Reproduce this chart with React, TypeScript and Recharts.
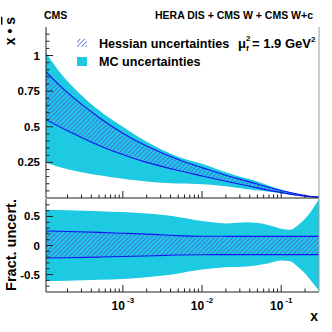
import { ComposedChart, Area, XAxis, YAxis, Legend } from 'recharts'

// top panel: x * sbar at mu_f^2 = 1.9 GeV^2
const xTop = [1.07e-4, 2e-4, 5e-4, 1e-3, 2e-3, 5e-3, 1e-2, 2e-2, 3.5e-2, 5e-2, 0.1, 0.2, 0.3]
const mcUpper = [1.02, 0.82, 0.615, 0.5, 0.395, 0.29, 0.24, 0.18, 0.14, 0.115, 0.058, 0.02, 0.008]
const mcLower = [0.247, 0.202, 0.159, 0.135, 0.116, 0.101, 0.097, 0.082, 0.064, 0.054, 0.033, 0.008, 0.002]
const hessUpper = [0.887, 0.74, 0.565, 0.455, 0.365, 0.27, 0.213, 0.16, 0.122, 0.098, 0.052, 0.018, 0.007]
const hessLower = [0.55, 0.472, 0.369, 0.305, 0.25, 0.193, 0.155, 0.117, 0.089, 0.071, 0.038, 0.013, 0.005]

// bottom panel: fractional uncertainties
const xFrac = [1.07e-4, 2e-4, 5e-4, 1e-3, 2e-3, 3.5e-3, 5e-3, 1e-2, 2e-2, 3.7e-2, 5e-2, 7e-2, 0.1, 0.13, 0.16, 0.2, 0.23, 0.27, 0.3]
const fracMcUpper = [0.61, 0.605, 0.59, 0.575, 0.55, 0.52, 0.49, 0.42, 0.38, 0.4, 0.385, 0.35, 0.29, 0.27, 0.34, 0.46, 0.56, 0.7, 0.8]
const fracMcLower = [-0.61, -0.605, -0.59, -0.575, -0.545, -0.51, -0.48, -0.415, -0.375, -0.36, -0.34, -0.305, -0.26, -0.27, -0.36, -0.48, -0.58, -0.7, -0.78]
const fracHessUpper = [0.25, 0.24, 0.225, 0.21, 0.195, 0.18, 0.17, 0.16, 0.158, 0.157, 0.157, 0.157, 0.157, 0.157, 0.157, 0.157, 0.157, 0.157, 0.157]
const fracHessLower = [-0.215, -0.21, -0.2, -0.19, -0.18, -0.17, -0.163, -0.158, -0.157, -0.157, -0.157, -0.157, -0.157, -0.157, -0.157, -0.157, -0.157, -0.157, -0.157]

// axes
const X_MIN = 1.07e-4
const X_MAX = 0.3
const decades = [1e-4, 1e-3, 1e-2, 1e-1]
const minorSteps = [2, 3, 4, 5, 6, 7, 8, 9]
const xLabels = [1e-3, 1e-2, 1e-1]
const yTopLabels = [0.25, 0.5, 0.75, 1]
const yFracLabels = [-0.5, 0, 0.5]

const xTicks = decades
  .flatMap((d) => [d, ...minorSteps.map((m) => m * d)])
  .filter((v) => v >= X_MIN && v < X_MAX * 0.999)
const yTopTicks = Array.from({ length: 23 }, (_, i) => (i + 1) * 0.05)
const yFracTicks = Array.from({ length: 15 }, (_, i) => (i - 7) / 10)

const topData = xTop.map((x, i) => ({
  x,
  mc: [mcLower[i], mcUpper[i]],
  hess: [hessLower[i], hessUpper[i]],
}))
const fracData = xFrac.map((x, i) => ({
  x,
  mc: [fracMcLower[i], fracMcUpper[i]],
  hess: [fracHessLower[i], fracHessUpper[i]],
}))

const FONT = '"Liberation Sans", Arial, Helvetica, sans-serif'
const CYAN = '#1ec9e2'
const BLUE = '#1414f0'
const AXIS = '#222'

const isIn = (list: number[], v: number) => list.some((l) => Math.abs(l - v) <= Math.abs(l) * 1e-6 + 1e-9)

const renderXTick = (withLabel: boolean) => (props: any) => {
  const { x, y, payload } = props
  const major = isIn(xLabels, payload.value)
  const exp = Math.round(Math.log10(payload.value))
  return (
    <g>
      <line x1={x} x2={x} y1={y} y2={y - (major ? 7 : 3.5)} stroke={AXIS} />
      {withLabel && major && (
        <text x={x} y={y + 18} textAnchor="middle" fontFamily={FONT} fontWeight="bold" fontSize={12} fill="#000">
          10
          <tspan dx={2} dy={-7} fontSize={8}>
            {exp}
          </tspan>
        </text>
      )}
    </g>
  )
}

const renderYTick = (labels: number[]) => (props: any) => {
  const { x, y, payload } = props
  const major = isIn(labels, payload.value)
  const axisX = x + 6
  return (
    <g>
      <line x1={axisX} x2={axisX + (major ? 7 : 3.5)} y1={y} y2={y} stroke={AXIS} />
      {major && (
        <text x={x} y={y + 4} textAnchor="end" fontFamily={FONT} fontWeight="bold" fontSize={11.5} fill="#000">
          {String(payload.value)}
        </text>
      )}
    </g>
  )
}

const LegendBox = () => (
  <svg width={170} height={32} style={{ display: 'block' }}>
    <rect x={0} y={2} width={10} height={8} fill="url(#hessHatch)" />
    <text x={22} y={11} fontFamily={FONT} fontWeight="bold" fontSize={12.6} fill="#000">
      Hessian uncertainties
    </text>
    <rect x={0} y={20} width={10} height={9} fill={CYAN} />
    <text x={22} y={29} fontFamily={FONT} fontWeight="bold" fontSize={12.6} fill="#000">
      MC uncertainties
    </text>
  </svg>
)

export default function App() {
  return (
    <div style={{ position: 'absolute', left: 0, top: 0, width: 332, height: 332, background: '#fff' }}>
      <div style={{ position: 'absolute', left: 0, top: 0 }}>
        <ComposedChart width={332} height={199} data={topData} margin={{ top: 27, right: 0, bottom: 0, left: 0 }}>
          <defs>
            <pattern id="hessHatch" width="3.2" height="3.2" patternUnits="userSpaceOnUse" patternTransform="rotate(-45)">
              <line x1="0" y1="0.5" x2="3.2" y2="0.5" stroke="#4d5fe6" strokeWidth="0.8" />
            </pattern>
          </defs>
          <Area dataKey="mc" type="natural" fill={CYAN} fillOpacity={1} stroke="none" isAnimationActive={false} />
          <Area
            dataKey="hess"
            type="natural"
            fill="url(#hessHatch)"
            fillOpacity={1}
            stroke={BLUE}
            strokeWidth={1.1}
            isAnimationActive={false}
          />
          <XAxis
            dataKey="x"
            type="number"
            scale="log"
            domain={[X_MIN, X_MAX]}
            allowDataOverflow
            ticks={xTicks}
            interval={0}
            height={1}
            tickSize={0}
            tickMargin={0}
            tick={renderXTick(false)}
            tickLine={false}
            axisLine={{ stroke: AXIS }}
          />
          <YAxis
            yAxisId={0}
            type="number"
            domain={[0, 1.2]}
            ticks={yTopTicks}
            interval={0}
            width={46}
            tickSize={0}
            tickMargin={6}
            tick={renderYTick(yTopLabels)}
            tickLine={false}
            axisLine={{ stroke: AXIS }}
          />
          <YAxis yAxisId="r" orientation="right" width={13} domain={[0, 1.2]} tick={false} tickLine={false} axisLine={{ stroke: '#999' }} />
          <Legend
            layout="horizontal"
            verticalAlign="middle"
            align="center"
            content={() => <LegendBox />}
            wrapperStyle={{ left: 77, top: 37, width: 'auto', height: 'auto' }}
          />
        </ComposedChart>
      </div>
      <div style={{ position: 'absolute', left: 0, top: 198 }}>
        <ComposedChart width={332} height={134} data={fracData} margin={{ top: 1, right: 0, bottom: 0, left: 0 }}>
          <Area dataKey="mc" type="monotone" fill={CYAN} fillOpacity={1} stroke="none" isAnimationActive={false} />
          <Area
            dataKey="hess"
            type="monotone"
            fill="url(#hessHatch)"
            fillOpacity={1}
            stroke={BLUE}
            strokeWidth={1.1}
            isAnimationActive={false}
          />
          <XAxis
            dataKey="x"
            type="number"
            scale="log"
            domain={[X_MIN, X_MAX]}
            allowDataOverflow
            ticks={xTicks}
            interval={0}
            height={40}
            tickSize={0}
            tickMargin={0}
            tick={renderXTick(true)}
            tickLine={false}
            axisLine={{ stroke: AXIS }}
          />
          <YAxis
            yAxisId={0}
            type="number"
            domain={[-0.8, 0.8]}
            ticks={yFracTicks}
            interval={0}
            width={46}
            tickSize={0}
            tickMargin={6}
            tick={renderYTick(yFracLabels)}
            tickLine={false}
            axisLine={{ stroke: AXIS }}
          />
          <YAxis yAxisId="r" orientation="right" width={13} domain={[-0.8, 0.8]} tick={false} tickLine={false} axisLine={{ stroke: '#999' }} />
        </ComposedChart>
      </div>
      <svg width={332} height={332} style={{ position: 'absolute', left: 0, top: 0, pointerEvents: 'none' }}>
        <g fontFamily={FONT} fontWeight="bold" fill="#000">
          <text x={44} y={19} fontSize={10.5}>CMS</text>
          <text x={313} y={19} fontSize={10.5} textAnchor="end">HERA DIS + CMS W + CMS W+c</text>
          <text x={238} y={48} fontSize={13}>μ</text>
          <text x={246} y={41} fontSize={8}>2</text>
          <text x={246} y={51} fontSize={8}>f</text>
          <text x={252} y={48} fontSize={13}>
            = 1.9 GeV<tspan dy={-6} fontSize={8}>2</tspan>
          </text>
          <text transform="translate(15,31) rotate(-90)" textAnchor="middle" fontSize={14}>
            x • <tspan style={{ textDecoration: 'overline' }}>s</tspan>
          </text>
          <text transform="translate(16,245) rotate(-90)" textAnchor="middle" fontSize={14.5}>
            Fract. uncert.
          </text>
          <text x={318} y={321} fontSize={14} textAnchor="end">x</text>
        </g>
      </svg>
    </div>
  )
}
